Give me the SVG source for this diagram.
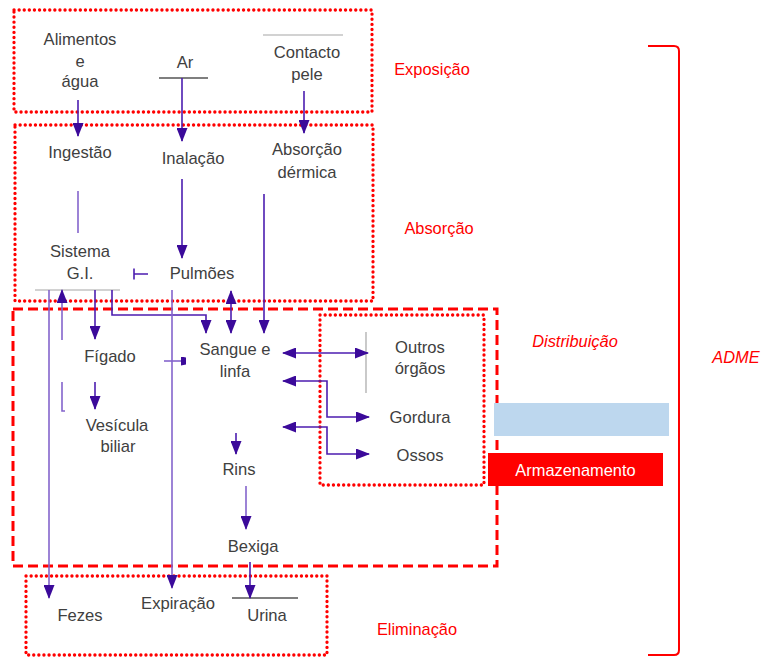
<svg xmlns="http://www.w3.org/2000/svg" width="763" height="657" viewBox="0 0 763 657">
  <style>
    .node text { font-family: "Liberation Sans", Arial, sans-serif; font-size: 16.6px; fill: #404040; text-anchor: middle; }
    .lbl { font-family: "Liberation Sans", Arial, sans-serif; font-size: 16.4px; fill: #FF0000; text-anchor: middle; }
    .it { font-style: italic; }
    .dot { fill: none; stroke: #FF0000; stroke-width: 3.3; stroke-linecap: round; stroke-dasharray: 0.1 5; }
    .dash { fill: none; stroke: #FF0000; stroke-width: 3; stroke-dasharray: 10 5; }
    .ln { fill: none; stroke: #8464CC; stroke-width: 1.6; }
    .lnd { fill: none; stroke: #4C1DB0; stroke-width: 1.6; }
    .rule { fill: none; stroke: #A6A6A6; stroke-width: 1.2; }
    .rule-dk { fill: none; stroke: #000000; stroke-width: 1.2; }
    .arr { marker-end: url(#ah); }
    .arr2 { marker-start: url(#ah); marker-end: url(#ah); }
  </style>
  <defs>
    <marker id="ah" markerUnits="userSpaceOnUse" markerWidth="14" markerHeight="11" viewBox="0 0 14 11" refX="13" refY="5.5" orient="auto-start-reverse">
      <path d="M0,0 L14,5.5 L0,11 z" fill="#3B0A9A"/>
    </marker>
    <marker id="stub" markerUnits="userSpaceOnUse" markerWidth="5" markerHeight="9" viewBox="0 0 5 9" refX="5" refY="4.5" orient="auto">
      <path d="M0,0 L5,1 L5,8 L0,9 z" fill="#3B0A9A"/>
    </marker>
  </defs>

  <!-- stage frames -->
  <g id="frames">
    <rect class="dot" x="14" y="10" width="358" height="102"/>
    <rect class="dot" x="15" y="125" width="358" height="176"/>
    <rect class="dash" x="13" y="309" width="484" height="257"/>
    <rect class="dot" x="320" y="315" width="164" height="170"/>
    <rect class="dot" x="26" y="576" width="301" height="79"/>
  </g>

  <!-- stage labels -->
  <g id="labels">
    <text class="lbl" x="432" y="75">Exposição</text>
    <text class="lbl" x="439" y="234">Absorção</text>
    <text class="lbl it" x="575" y="347">Distribuição</text>
    <text class="lbl it" x="736" y="363">ADME</text>
    <text class="lbl" x="417" y="635">Eliminação</text>
  </g>

  <!-- side boxes -->
  <g id="fat-band">
    <rect x="494" y="403" width="175" height="33" fill="#BDD7EE"/>
  </g>
  <g id="armazenamento">
    <rect x="488" y="453" width="175" height="33" fill="#FF0000"/>
    <text x="575.5" y="476" font-family="Liberation Sans, Arial, sans-serif" font-size="16.4" fill="#FFFFFF" text-anchor="middle">Armazenamento</text>
  </g>

  <!-- ADME bracket -->
  <g id="adme-bracket">
    <path d="M648,46 L674,46 Q679,46 679,51 L679,650 Q679,655 674,655 L648,655" fill="none" stroke="#FF0000" stroke-width="2"/>
  </g>

  <!-- nodes -->
  <g id="alimentos" class="node">
    <text x="80" y="45">Alimentos</text>
    <text x="80" y="67">e</text>
    <text x="80" y="87">água</text>
  </g>
  <g id="ar" class="node">
    <text x="185" y="68">Ar</text>
    <line class="rule-dk" x1="159" y1="78" x2="208" y2="78" stroke="#595959"/>
  </g>
  <g id="contacto-pele" class="node">
    <line class="rule" x1="263" y1="35" x2="343" y2="35"/>
    <text x="307" y="58">Contacto</text>
    <text x="307" y="80">pele</text>
  </g>
  <g id="ingestao" class="node"><text x="80" y="158">Ingestão</text></g>
  <g id="inalacao" class="node"><text x="193" y="164">Inalação</text></g>
  <g id="absorcao-dermica" class="node">
    <text x="307" y="155">Absorção</text>
    <text x="307" y="178">dérmica</text>
  </g>
  <g id="sistema-gi" class="node">
    <text x="80" y="257">Sistema</text>
    <text x="80" y="279">G.I.</text>
    <line class="rule" x1="35" y1="290" x2="120" y2="290"/>
  </g>
  <g id="pulmoes" class="node"><text x="202" y="279">Pulmões</text></g>
  <g id="figado" class="node"><text x="110" y="362">Fígado</text></g>
  <g id="sangue-linfa" class="node">
    <text x="235" y="355">Sangue e</text>
    <text x="235" y="377">linfa</text>
  </g>
  <g id="vesicula" class="node">
    <text x="117" y="431">Vesícula</text>
    <text x="118" y="452">biliar</text>
  </g>
  <g id="outros-orgaos" class="node">
    <line class="rule" x1="366" y1="332" x2="366" y2="393" stroke="#BFBFBF"/>
    <text x="420" y="353">Outros</text>
    <text x="420" y="374">órgãos</text>
  </g>
  <g id="gordura" class="node"><text x="420" y="423">Gordura</text></g>
  <g id="ossos" class="node"><text x="420" y="461">Ossos</text></g>
  <g id="rins" class="node"><text x="239" y="475">Rins</text></g>
  <g id="bexiga" class="node"><text x="253" y="552">Bexiga</text></g>
  <g id="fezes" class="node"><text x="80" y="621">Fezes</text></g>
  <g id="expiracao" class="node"><text x="178" y="609">Expiração</text></g>
  <g id="urina" class="node">
    <line class="rule-dk" x1="232" y1="598" x2="298" y2="598"/>
    <text x="267" y="621">Urina</text>
  </g>

  <!-- connectors -->
  <g id="connectors">
    <!-- exposure to absorption routes -->
    <line class="lnd arr" x1="78" y1="100" x2="78" y2="136"/>
    <line class="lnd arr" x1="182" y1="78" x2="182" y2="141"/>
    <line class="lnd arr" x1="304" y1="91" x2="304" y2="133"/>

    <!-- within absorption -->
    <line class="ln" x1="78" y1="191" x2="78" y2="233"/>
    <line class="lnd arr" x1="182" y1="179" x2="182" y2="258"/>
    <path class="lnd" d="M148,274 L134,274 M134,268.5 L134,279.5"/>
    <line class="lnd arr" x1="264" y1="194" x2="264" y2="333"/>

    <!-- from the G.I. tract -->
    <line class="ln arr" x1="49" y1="290" x2="49" y2="598"/>
    <line class="ln arr" x1="62" y1="340" x2="62" y2="290"/>
    <path class="ln" d="M62,382 L62,411 L65,411"/>
    <line class="lnd arr" x1="95" y1="290" x2="95" y2="339"/>
    <path class="lnd arr" d="M112,290 L112,315 L206,315 L206,333"/>

    <!-- from the lungs -->
    <line class="ln arr" x1="172" y1="290" x2="172" y2="588"/>
    <line class="lnd arr2" x1="231" y1="291" x2="231" y2="333"/>

    <!-- liver -->
    <line class="ln" x1="164" y1="361" x2="186" y2="361" marker-end="url(#stub)"/>
    <line class="lnd arr" x1="95" y1="382" x2="95" y2="409"/>

    <!-- blood exchanges -->
    <line class="lnd arr2" x1="283" y1="353" x2="368" y2="353"/>
    <path class="lnd arr2" d="M283,381 L327,381 L327,417 L369,417"/>
    <path class="lnd arr2" d="M283,427 L327,427 L327,454 L369,454"/>

    <!-- kidney route -->
    <line class="lnd arr" x1="236" y1="433" x2="236" y2="454"/>
    <line class="ln arr" x1="246" y1="486" x2="246" y2="529"/>
    <line class="lnd arr" x1="250" y1="562" x2="250" y2="598"/>
  </g>
</svg>
